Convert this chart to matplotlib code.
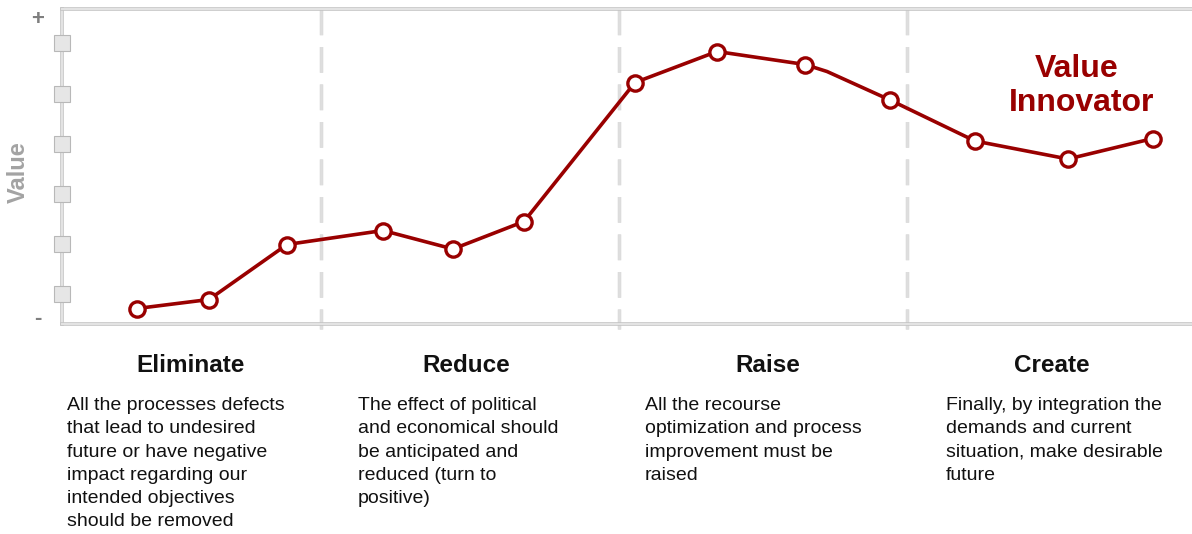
import matplotlib
matplotlib.use('Agg')
import matplotlib.pyplot as plt
import matplotlib.patheffects as pe
from matplotlib.transforms import blended_transform_factory

plt.rcParams['font.family'] = ['Liberation Sans', 'DejaVu Sans']
plt.rcParams['lines.scale_dashes'] = False

# ---------------- data ----------------
stage_x = [0.75, 1.47, 2.25, 3.21, 3.91, 4.62, 5.73, 6.55, 7.43, 7.65, 8.28, 9.13, 10.06, 10.91]
value_y = [0.31, 0.49, 1.59, 1.87, 1.50, 2.05, 4.83, 5.45, 5.19, 5.05, 4.48, 3.66, 3.30, 3.71]
has_marker = [True, True, True, True, True, True, True, True, True, False, True, True, True, True]

divider_x = [2.59, 5.57, 8.45]
tick_y = [0.6, 1.6, 2.6, 3.6, 4.6, 5.62]

phase_names = ['Eliminate', 'Reduce', 'Raise', 'Create']
phase_lines = [
    ['All the processes defects', 'that lead to undesired', 'future or have negative',
     'impact regarding our', 'intended objectives', 'should be removed'],
    ['The effect of political', 'and economical should', 'be anticipated and',
     'reduced (turn to', 'positive)'],
    ['All the recourse', 'optimization and process', 'improvement must be', 'raised'],
    ['Finally, by integration the', 'demands and current',
     'situation, make desirable', 'future'],
]
annotation_lines = ['Value', 'Innovator']

# ---------------- layout ----------------
W, H = 1192, 534
fig = plt.figure(figsize=(W / 100, H / 100), dpi=100)

def fx(px):
    return px / W

def fy(py):
    return 1 - py / H

ax = fig.add_axes([fx(62), fy(324), (1200 - 62) / W, (324 - 9) / H])
ax.set_xlim(0, 11.38)
ax.set_ylim(0, 6.3)
ax.set_xticks([])
ax.set_yticks([])
ax.spines['right'].set_visible(False)
for s in ['left', 'top', 'bottom']:
    ax.spines[s].set_color('#e4e4e4')
    ax.spines[s].set_linewidth(1.4)
    ax.spines[s].set_path_effects([pe.Stroke(linewidth=2.6, foreground='#c4c4c4'), pe.Normal()])

# dashed dividers (drawn from top to bottom)
trans = blended_transform_factory(ax.transData, ax.transAxes)
for xd in divider_x:
    ax.plot([xd, xd], [1.0, -0.015], transform=trans, color='#dedede', lw=2.0,
            linestyle=(0, (18.5, 8.5)), clip_on=False, zorder=2,
            path_effects=[pe.Stroke(linewidth=2.5, foreground='#d2d2d2'), pe.Normal()])

# tick squares on the value axis
ax.plot([0] * len(tick_y), tick_y, linestyle='none', marker='s', ms=11,
        mfc='#e6e6e6', mec='#b8b8b8', mew=0.8, clip_on=False, zorder=6)

ax.text(-0.24, 6.09, '+', ha='center', va='center', fontsize=16, fontweight='bold',
        color='#7f7f7f', clip_on=False)
ax.text(-0.24, 0.10, '-', ha='center', va='center', fontsize=16, fontweight='bold',
        color='#7f7f7f', clip_on=False)

# line
red = '#990000'
ax.plot(stage_x, value_y, color=red, lw=2.6, zorder=4, solid_joinstyle='round')
mx = [x for x, m in zip(stage_x, has_marker) if m]
my = [y for y, m in zip(value_y, has_marker) if m]
ax.plot(mx, my, linestyle='none', marker='o', ms=11, mfc='white', mec=red, mew=2.4,
        zorder=5, clip_on=False)

# axis title
fig.text(fx(18), fy(172), 'Value', rotation=90, ha='center', va='center',
         fontsize=17, fontweight='bold', color='#a3a3a3')

# annotation
fig.text(fx(1077), fy(77), annotation_lines[0], ha='center', va='baseline',
         fontsize=23, fontweight='bold', color=red)
fig.text(fx(1082), fy(111), annotation_lines[1], ha='center', va='baseline',
         fontsize=23, fontweight='bold', color=red)

# phase headings and descriptions
head_cx = [191, 466, 768, 1052]
body_lx = [67, 358, 645, 946]
for name, lines, cx, lx in zip(phase_names, phase_lines, head_cx, body_lx):
    fig.text(fx(cx), fy(372), name, ha='center', va='baseline', fontsize=17.5,
             fontweight='bold', color='#111111')
    for i, ln in enumerate(lines):
        fig.text(fx(lx), fy(410 + i * 23.3), ln, ha='left', va='baseline',
                 fontsize=14, color='#111111')

fig.savefig('out.png', dpi=100)
